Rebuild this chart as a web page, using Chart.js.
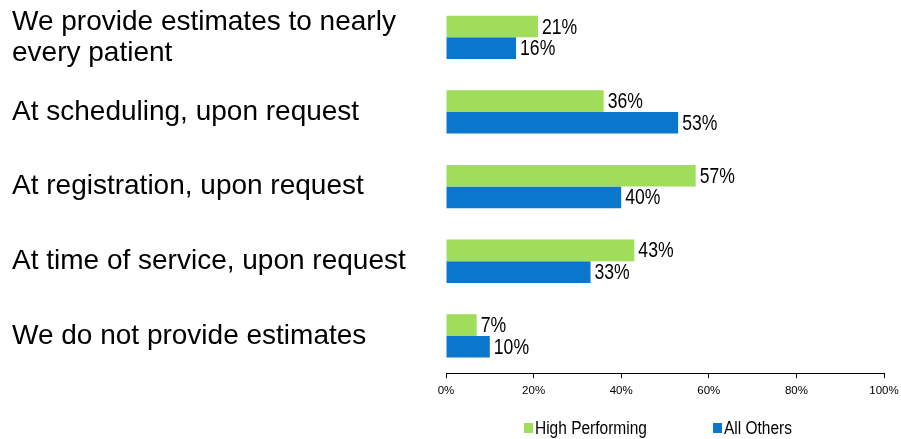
<!DOCTYPE html>
<html>
<head>
<meta charset="utf-8">
<script src="https://cdn.jsdelivr.net/npm/chart.js@4.4.1/dist/chart.umd.min.js"></script>
<style>
  html, body { margin: 0; padding: 0; background: #fff; }
</style>
</head>
<body>
<canvas id="estChart" width="901" height="439"></canvas>
<script>
// Chart data
const categories = [
    ['We provide estimates to nearly', 'every patient'],
    'At scheduling, upon request',
    'At registration, upon request',
    'At time of service, upon request',
    'We do not provide estimates'
];
const seriesNames = ['High Performing', 'All Others'];
const highPerforming = [21, 36, 57, 43, 7];
const allOthers = [16, 53, 40, 33, 10];
const xTicks = [0, 20, 40, 60, 80, 100];

const seriesColors = ['#a0dd5a', '#0a77cc'];
const sansFont = '"Liberation Sans", Arial, sans-serif';

// draw text squeezed horizontally, like Arial Narrow
function narrowText(ctx, text, x, y, squeeze) {
    ctx.save();
    ctx.translate(x, y);
    ctx.scale(squeeze, 1);
    ctx.fillText(text, 0, 0);
    ctx.restore();
}

// Value labels to the right of each bar
const barLabels = {
    id: 'barLabels',
    afterDatasetsDraw(chart) {
        const ctx = chart.ctx;
        ctx.save();
        ctx.font = '22px ' + sansFont;
        ctx.fillStyle = '#000';
        ctx.textBaseline = 'middle';
        chart.data.datasets.forEach((ds, i) => {
            chart.getDatasetMeta(i).data.forEach((bar, j) => {
                narrowText(ctx, ds.data[j] + '%', bar.x + 4, bar.y + 1, 0.8);
            });
        });
        ctx.restore();
    }
};

// Legend below the axis, placed like the original
const bottomLegend = {
    id: 'bottomLegend',
    afterDraw(chart) {
        const ctx = chart.ctx;
        const xs = [524, 713];
        const y = 428;
        ctx.save();
        ctx.font = '18px ' + sansFont;
        ctx.textBaseline = 'middle';
        chart.data.datasets.forEach((ds, i) => {
            ctx.fillStyle = ds.backgroundColor;
            ctx.fillRect(xs[i], y - 5, 9, 10);
            ctx.fillStyle = '#000';
            narrowText(ctx, ds.label, xs[i] + 11, y + 1, 0.86);
        });
        ctx.restore();
    }
};

new Chart(document.getElementById('estChart'), {
    type: 'bar',
    data: {
        labels: categories,
        datasets: [
            { label: seriesNames[0], data: highPerforming, backgroundColor: seriesColors[0] },
            { label: seriesNames[1], data: allOthers, backgroundColor: seriesColors[1] }
        ]
    },
    options: {
        indexAxis: 'y',
        responsive: false,
        animation: false,
        categoryPercentage: 0.58,
        barPercentage: 1,
        layout: { padding: { left: 12, right: 17, top: 0, bottom: 35 } },
        plugins: {
            legend: { display: false },
            tooltip: { enabled: false }
        },
        scales: {
            x: {
                min: 0,
                max: 100,
                afterBuildTicks: scale => { scale.ticks = xTicks.map(v => ({ value: v })); },
                afterFit: scale => {
                    scale.paddingLeft = 0;
                    scale.paddingRight = 0;
                },
                grid: { drawOnChartArea: false, drawTicks: true, tickLength: 5, color: '#000' },
                border: { display: true, color: '#000', width: 1 },
                ticks: {
                    padding: 6,
                    color: '#000',
                    maxRotation: 0,
                    font: { family: sansFont, size: 11.5 },
                    callback: v => v + '%'
                }
            },
            y: {
                grid: { display: false },
                border: { display: false },
                afterFit: scale => {
                    scale.width = 434;
                    scale.paddingTop = 0;
                    scale.paddingBottom = 0;
                },
                ticks: {
                    crossAlign: 'far',
                    padding: 0,
                    color: '#000',
                    font: { family: sansFont, size: 28, lineHeight: '31px' }
                }
            }
        }
    },
    plugins: [barLabels, bottomLegend]
});
</script>
</body>
</html>
